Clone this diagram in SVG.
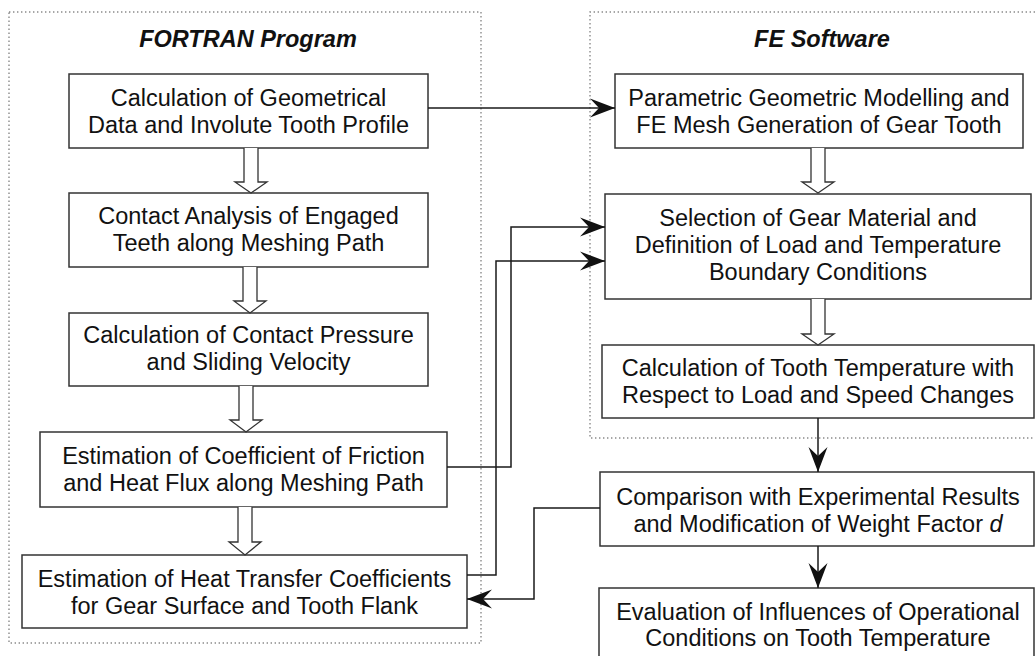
<svg xmlns="http://www.w3.org/2000/svg" width="1035" height="656" viewBox="0 0 1035 656">
  <style>
    .frame { fill: none; stroke: #8a8a8a; stroke-width: 1.4; stroke-dasharray: 1.4 2.6; }
    .box { fill: #ffffff; stroke: #333333; stroke-width: 1.5; }
    .hollow { fill: #ffffff; stroke: #333333; stroke-width: 1.3; stroke-linejoin: miter; }
    .conn { fill: none; stroke: #1a1a1a; stroke-width: 1.5; }
    .label { font-family: "Liberation Sans", Arial, Helvetica, sans-serif; font-size: 23.5px; fill: #111111; text-anchor: middle; }
    .title { font-family: "Liberation Sans", Arial, Helvetica, sans-serif; font-size: 23.5px; font-weight: bold; font-style: italic; fill: #111111; text-anchor: middle; }
  </style>
  <defs>
    <marker id="arrow" viewBox="-26 -10 27 20" refX="0" refY="0" markerWidth="27" markerHeight="20" markerUnits="userSpaceOnUse" orient="auto">
      <path d="M0,0 L-25,-9.5 L-16,0 L-25,9.5 Z" fill="#111111"/>
    </marker>
  </defs>

  <rect width="1035" height="656" fill="#ffffff"/>

  <!-- program frames -->
  <g id="frame-fortran">
    <rect class="frame" x="9" y="12" width="472" height="631"/>
    <text class="title" x="248" y="47">FORTRAN Program</text>
  </g>
  <g id="frame-fe">
    <path class="frame" d="M1035,12 H590 V438 H1035"/>
    <text class="title" x="822" y="47">FE Software</text>
  </g>

  <!-- FORTRAN program steps -->
  <g id="geometry">
    <rect class="box" x="69" y="74" width="359" height="74"/>
    <text class="label" x="248.5" y="106">Calculation of Geometrical</text>
    <text class="label" x="248.5" y="133">Data and Involute Tooth Profile</text>
  </g>
  <g id="contact-analysis">
    <rect class="box" x="69" y="193" width="359" height="74"/>
    <text class="label" x="248.5" y="224">Contact Analysis of Engaged</text>
    <text class="label" x="248.5" y="251">Teeth along Meshing Path</text>
  </g>
  <g id="pressure-velocity">
    <rect class="box" x="69" y="313" width="359" height="73"/>
    <text class="label" x="248.5" y="343">Calculation of Contact Pressure</text>
    <text class="label" x="248.5" y="370">and Sliding Velocity</text>
  </g>
  <g id="friction-heat-flux">
    <rect class="box" x="40" y="432" width="407" height="75"/>
    <text class="label" x="243.5" y="464">Estimation of Coefficient of Friction</text>
    <text class="label" x="243.5" y="491">and Heat Flux along Meshing Path</text>
  </g>
  <g id="heat-transfer">
    <rect class="box" x="22" y="555" width="445" height="73"/>
    <text class="label" x="244.5" y="587">Estimation of Heat Transfer Coefficients</text>
    <text class="label" x="244.5" y="614">for Gear Surface and Tooth Flank</text>
  </g>

  <!-- FE software steps -->
  <g id="fe-mesh">
    <rect class="box" x="615" y="74" width="408" height="74"/>
    <text class="label" x="819" y="106">Parametric Geometric Modelling and</text>
    <text class="label" x="819" y="133">FE Mesh Generation of Gear Tooth</text>
  </g>
  <g id="boundary-conditions">
    <rect class="box" x="605" y="194" width="426" height="105"/>
    <text class="label" x="818" y="226">Selection of Gear Material and</text>
    <text class="label" x="818" y="253">Definition of Load and Temperature</text>
    <text class="label" x="818" y="280">Boundary Conditions</text>
  </g>
  <g id="tooth-temperature">
    <rect class="box" x="602" y="345" width="432" height="73"/>
    <text class="label" x="818" y="376">Calculation of Tooth Temperature with</text>
    <text class="label" x="818" y="403">Respect to Load and Speed Changes</text>
  </g>
  <g id="comparison">
    <rect class="box" x="600" y="472" width="434" height="74"/>
    <text class="label" x="818" y="505">Comparison with Experimental Results</text>
    <text class="label" x="818" y="532">and Modification of Weight Factor <tspan font-style="italic">d</tspan></text>
  </g>
  <g id="evaluation">
    <path class="box" d="M599,656 V588 H1034 V656"/>
    <text class="label" x="818" y="620">Evaluation of Influences of Operational</text>
    <text class="label" x="818" y="646">Conditions on Tooth Temperature</text>
  </g>

  <!-- connectors -->
  <g id="connectors">
    <!-- hollow sequence arrows -->
    <path class="hollow" d="M244,148 V182 H235 L251,193 L267,182 H258 V148"/>
    <path class="hollow" d="M243,267 V301 H234 L250,313 L266,301 H257 V267"/>
    <path class="hollow" d="M239,386 V420 H230 L246,432 L262,420 H253 V386"/>
    <path class="hollow" d="M238,507 V542 H229 L245,555 L261,542 H252 V507"/>
    <path class="hollow" d="M811,148 V182 H802 L818,193 L834,182 H825 V148"/>
    <path class="hollow" d="M811,299 V334 H802 L818,345 L834,334 H825 V299"/>

    <!-- data links -->
    <path class="conn" d="M428,108 H615" marker-end="url(#arrow)"/>
    <path class="conn" d="M447,467 H511 V227 H605" marker-end="url(#arrow)"/>
    <path class="conn" d="M467,575 H496 V261 H605" marker-end="url(#arrow)"/>
    <path class="conn" d="M818,418 V472" marker-end="url(#arrow)"/>
    <path class="conn" d="M818,546 V588" marker-end="url(#arrow)"/>
    <path class="conn" d="M600,508 H534 V599 H467" marker-end="url(#arrow)"/>
  </g>
</svg>
